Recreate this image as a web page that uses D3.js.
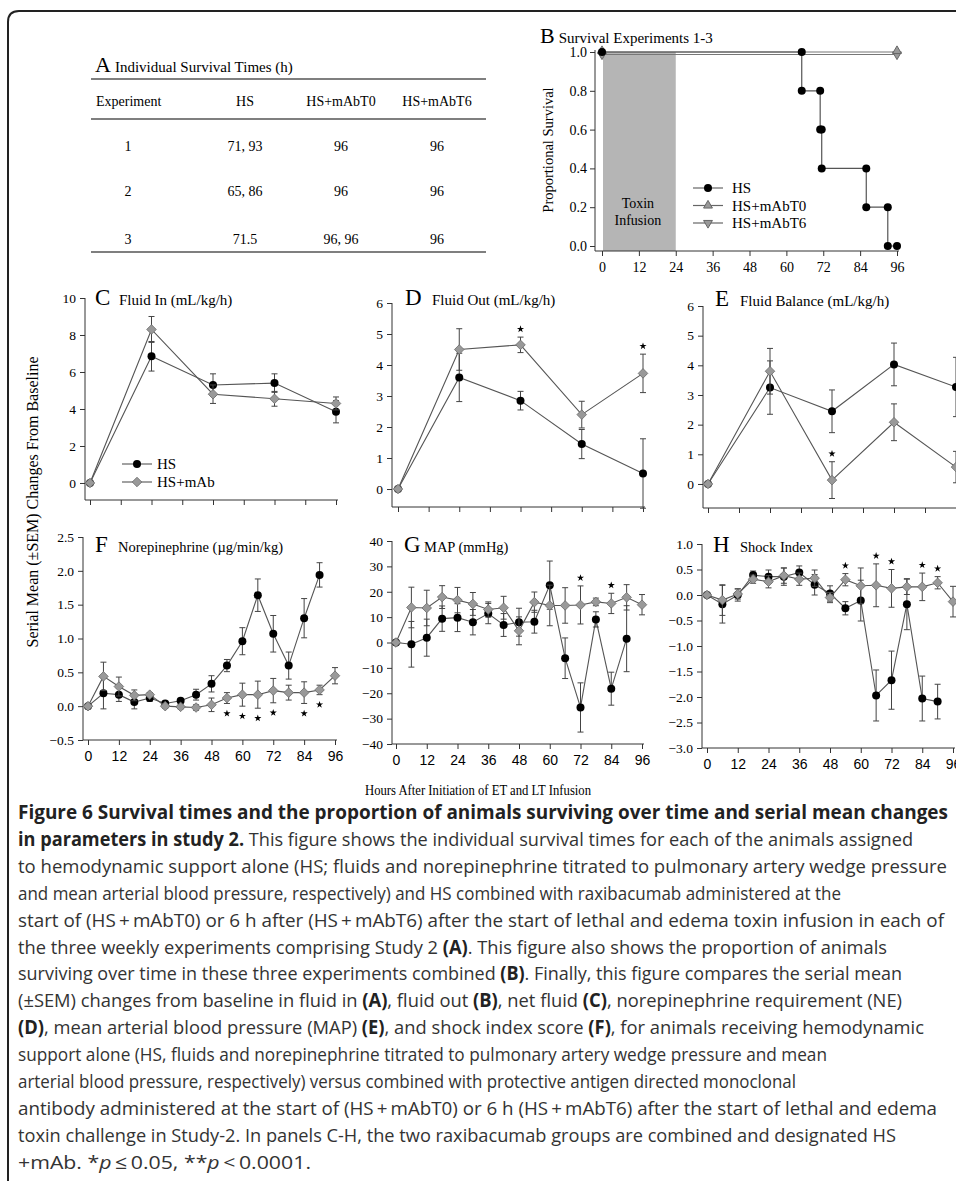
<!DOCTYPE html>
<meta charset="utf-8">
<style>
body { margin: 0; background: #fff; }
svg { display: block; }
</style>
<svg width="956" height="1181"></svg>
<script src="https://cdnjs.cloudflare.com/ajax/libs/d3/7.8.5/d3.min.js"></script>
<script>

// ---- data ----
var tableHeader = ["Experiment", "HS", "HS+mAbT0", "HS+mAbT6"];
var tableRows = [
  ["1", "71, 93", "96", "96"],
  ["2", "65, 86", "96", "96"],
  ["3", "71.5", "96, 96", "96"]
];

// survival (Kaplan-Meier steps)
var survHoursHS = [0, 65, 65, 71, 71, 71.5, 71.5, 86, 86, 93, 93, 96];
var survPropHS  = [1, 1, 0.8, 0.8, 0.6, 0.6, 0.4, 0.4, 0.2, 0.2, 0, 0];
var survHoursMab = [0, 96];
var survPropT0 = [1, 1];
var survPropT6 = [1, 1];
var survXTicks = [0, 12, 24, 36, 48, 60, 72, 84, 96];
var survYTicks = [0, 0.2, 0.4, 0.6, 0.8, 1.0];

var hoursDaily = [0, 24, 48, 72, 96];
var hours6 = [0, 6, 12, 18, 24, 30, 36, 42, 48, 54, 60, 66, 72, 78, 84, 90, 96];
var xTicks = [0, 12, 24, 36, 48, 60, 72, 84, 96];

// C fluid in
var fluidInHS     = [0, 6.85, 5.3, 5.4, 3.85];
var fluidInHSSem  = [0, 0.8, 0.6, 0.5, 0.6];
var fluidInMab    = [0, 8.3, 4.8, 4.55, 4.3];
var fluidInMabSem = [0, 0.7, 0.5, 0.4, 0.35];

// D fluid out
var fluidOutHS     = [0, 3.6, 2.85, 1.45, 0.5];
var fluidOutHSSem  = [0, 0.78, 0.3, 0.47, 1.12];
var fluidOutMab    = [0, 4.5, 4.65, 2.4, 3.73];
var fluidOutMabSem = [0, 0.67, 0.25, 0.43, 0.62];
var fluidOutStars  = [48, 96];

// E fluid balance
var balanceHS     = [0, 3.25, 2.45, 4.03, 3.27];
var balanceHSSem  = [0, 0.9, 0.72, 0.72, 1.0];
var balanceMab    = [0, 3.8, 0.13, 2.08, 0.57];
var balanceMabSem = [0, 0.77, 0.62, 0.62, 0.53];
var balanceStars  = [48];

// F norepinephrine
var neHS     = [0, 0.19, 0.17, 0.06, 0.12, 0.04, 0.08, 0.17, 0.33, 0.6, 0.96, 1.64, 1.07, 0.6, 1.3, 1.94, null];
var neHSSem  = [0, 0.23, 0.1, 0.1, 0.05, 0.03, 0.03, 0.08, 0.12, 0.09, 0.2, 0.24, 0.27, 0.2, 0.29, 0.18, null];
var neMab    = [0, 0.44, 0.29, 0.16, 0.17, 0.0, -0.01, -0.02, 0.02, 0.12, 0.17, 0.17, 0.23, 0.2, 0.2, 0.24, 0.45];
var neMabSem = [0, 0.21, 0.14, 0.08, 0.03, 0.03, 0.03, 0.04, 0.1, 0.08, 0.17, 0.2, 0.18, 0.11, 0.16, 0.07, 0.12];
var neStars  = [54, 60, 66, 72, 84, 90];

// G MAP
var mapHS     = [0, -0.7, 1.9, 9.4, 9.8, 8, 11.4, 6.9, 8, 8.2, 22.6, -6.2, -25.6, 9.1, -18.2, 1.5, null];
var mapHSSem  = [0, 9, 7.3, 5, 5.5, 5, 4, 4.5, 5.5, 4.5, 9.5, 8, 9.7, 3, 6.5, 13, null];
var mapMab    = [0, 13.8, 13.6, 17.9, 16.7, 15.2, 13, 13.7, 4.6, 15.9, 14.6, 14.6, 14.8, 16, 15.4, 17.8, 14.9];
var mapMabSem = [0, 8, 7, 4.5, 5, 4.5, 3, 4.5, 5.5, 4, 8, 7, 7.5, 1.5, 4, 5, 4];
var mapStars  = [72, 84];

// H shock index
var siHS     = [0, -0.18, 0.0, 0.39, 0.36, 0.36, 0.44, 0.2, 0.03, -0.26, -0.11, -1.97, -1.67, -0.18, -2.03, -2.09, null];
var siHSSem  = [0, 0.37, 0.12, 0.08, 0.13, 0.17, 0.13, 0.2, 0.15, 0.13, 0.4, 0.5, 0.57, 0.5, 0.44, 0.34, null];
var siMab    = [0, -0.1, 0.02, 0.31, 0.26, 0.38, 0.31, 0.33, -0.05, 0.3, 0.18, 0.19, 0.13, 0.16, 0.16, 0.24, -0.13];
var siMabSem = [0, 0.3, 0.1, 0.08, 0.12, 0.15, 0.12, 0.16, 0.1, 0.12, 0.35, 0.42, 0.37, 0.15, 0.27, 0.12, 0.3];
var siStars  = [54, 66, 72, 84, 90];

var captionLines = [
  [["Figure 6 Survival times and the proportion of animals surviving over time and serial mean changes", "b"]],
  [["in parameters in study 2.", "b"], [" This figure shows the individual survival times for each of the animals assigned", ""]],
  [["to hemodynamic support alone (HS; fluids and norepinephrine titrated to pulmonary artery wedge pressure", ""]],
  [["and mean arterial blood pressure, respectively) and HS combined with raxibacumab administered at the", ""]],
  [["start of (HS\u2009+\u2009mAbT0) or 6 h after (HS\u2009+\u2009mAbT6) after the start of lethal and edema toxin infusion in each of", ""]],
  [["the three weekly experiments comprising Study 2 ", ""], ["(A)", "b"], [". This figure also shows the proportion of animals", ""]],
  [["surviving over time in these three experiments combined ", ""], ["(B)", "b"], [". Finally, this figure compares the serial mean", ""]],
  [["(\u00b1SEM) changes from baseline in fluid in ", ""], ["(A)", "b"], [", fluid out ", ""], ["(B)", "b"], [", net fluid ", ""], ["(C)", "b"], [", norepinephrine requirement (NE)", ""]],
  [["(D)", "b"], [", mean arterial blood pressure (MAP) ", ""], ["(E)", "b"], [", and shock index score ", ""], ["(F)", "b"], [", for animals receiving hemodynamic", ""]],
  [["support alone (HS, fluids and norepinephrine titrated to pulmonary artery wedge pressure and mean", ""]],
  [["arterial blood pressure, respectively) versus combined with protective antigen directed monoclonal", ""]],
  [["antibody administered at the start of (HS\u2009+\u2009mAbT0) or 6 h (HS\u2009+\u2009mAbT6) after the start of lethal and edema", ""]],
  [["toxin challenge in Study-2. In panels C-H, the two raxibacumab groups are combined and designated HS", ""]],
  [["+mAb. *", ""], ["p", "i"], ["\u2009\u2264\u20090.05, **", ""], ["p", "i"], ["\u2009<\u20090.0001.", ""]]
];
var captionRight = [948, 913, 947, 841, 944, 887, 902, 902, 924, 827, 796, 937, 896, 311];

// ---- drawing ----
var serif = '"Liberation Serif", "Times New Roman", serif';
var sans = '"Liberation Sans", Arial, sans-serif';
var axisColor = "#333";
var lineColor = "#555";

var svg = d3.select("svg");

// frame
svg.append("path")
    .attr("d", "M8,1181 L8,22 Q8,11 19,11 L956,11")
    .attr("fill", "none").attr("stroke", "#222").attr("stroke-width", 2);

var diamond = {
  draw: function(ctx, size) {
    var r = Math.sqrt(size / 2);
    ctx.moveTo(0, -r); ctx.lineTo(r, 0); ctx.lineTo(0, r); ctx.lineTo(-r, 0); ctx.closePath();
  }
};
var star = d3.symbol().type(d3.symbolStar).size(16);

// ---- A: table ----
(function() {
  var g = svg.append("g").attr("font-family", serif).attr("fill", "#000");
  var t = g.append("text").attr("x", 95).attr("y", 72);
  t.append("tspan").attr("font-size", 22).text("A");
  t.append("tspan").attr("font-size", 15).attr("dx", 4).text("Individual Survival Times (h)");

  [79, 119, 252].forEach(function(yy) {
    g.append("line").attr("x1", 91).attr("x2", 486).attr("y1", yy).attr("y2", yy)
      .attr("stroke", "#555").attr("stroke-width", 1.4);
  });
  var colX = [96, 245, 341, 437];
  g.selectAll(".hdr").data(tableHeader).enter().append("text")
      .attr("x", function(d, i) { return colX[i]; })
      .attr("y", 106)
      .attr("text-anchor", function(d, i) { return i === 0 ? "start" : "middle"; })
      .attr("font-size", 14)
      .text(function(d) { return d; });
  var rowY = [151, 196, 244];
  var cellX = [128, 245, 341, 437];
  tableRows.forEach(function(row, r) {
    g.selectAll(null).data(row).enter().append("text")
        .attr("x", function(d, i) { return cellX[i]; })
        .attr("y", rowY[r])
        .attr("text-anchor", "middle")
        .attr("font-size", 14)
        .text(function(d) { return d; });
  });
})();

// ---- B: survival ----
(function() {
  var x = d3.scaleLinear().domain([0, 96]).range([602, 897]);
  var y = d3.scaleLinear().domain([0, 1]).range([246, 52]);
  var g = svg.append("g");
  var bottom = 251, axisX = 595;

  g.append("rect").attr("x", x(0) + 1).attr("y", y(1)).attr("width", x(24) - x(0) - 1)
    .attr("height", bottom - y(1)).attr("fill", "#b5b5b5");
  g.append("text").attr("font-family", serif).attr("font-size", 14).attr("text-anchor", "middle")
    .attr("x", x(12) - 1).attr("y", 208).text("Toxin");
  g.append("text").attr("font-family", serif).attr("font-size", 14).attr("text-anchor", "middle")
    .attr("x", x(12) - 1).attr("y", 225).text("Infusion");

  g.append("line").attr("x1", axisX).attr("x2", axisX).attr("y1", y(1) - 2).attr("y2", bottom).attr("stroke", axisColor);
  g.append("line").attr("x1", axisX).attr("x2", x(96) + 2).attr("y1", bottom).attr("y2", bottom).attr("stroke", axisColor);

  var ya = g.append("g").attr("transform", "translate(" + axisX + ",0)")
    .call(d3.axisLeft(y).tickValues(survYTicks).tickSize(5).tickPadding(3).tickFormat(d3.format(".1f")));
  ya.select(".domain").remove();
  var xa = g.append("g").attr("transform", "translate(0," + bottom + ")")
    .call(d3.axisBottom(x).tickValues(survXTicks).tickSize(5).tickPadding(6).tickFormat(d3.format("d")));
  xa.select(".domain").remove();
  [ya, xa].forEach(function(a) {
    a.attr("font-family", serif).attr("font-size", 14);
    a.selectAll("line").attr("stroke", axisColor);
    a.selectAll("text").attr("fill", "#000");
  });

  var line = d3.line().x(function(d) { return d[0]; }).y(function(d) { return d[1]; });
  var t0 = survHoursMab.map(function(h, i) { return [x(h), y(survPropT0[i])]; });
  var t6 = survHoursMab.map(function(h, i) { return [x(h), y(survPropT6[i]) + 2.5]; });
  g.append("path").attr("d", line(t6)).attr("fill", "none").attr("stroke", "#777").attr("stroke-width", 1.2);
  g.append("path").attr("d", line(t0)).attr("fill", "none").attr("stroke", "#777").attr("stroke-width", 1.2);
  var hs = survHoursHS.map(function(h, i) { return [x(h), y(survPropHS[i])]; });
  g.append("path").attr("d", line(hs)).attr("fill", "none").attr("stroke", lineColor).attr("stroke-width", 1.2);

  var up = d3.symbol().type(d3.symbolTriangle).size(34);
  g.selectAll(".t6").data(t6).enter().append("path").attr("d", up)
    .attr("transform", function(d) { return "translate(" + d[0] + "," + d[1] + ") rotate(180)"; })
    .attr("fill", "#999").attr("stroke", "#666");
  g.selectAll(".t0").data(t0).enter().append("path").attr("d", up)
    .attr("transform", function(d) { return "translate(" + d[0] + "," + (d[1] - 1) + ")"; })
    .attr("fill", "#999").attr("stroke", "#666");
  g.selectAll(".hs").data(hs).enter().append("circle")
    .attr("cx", function(d) { return d[0]; }).attr("cy", function(d) { return d[1]; })
    .attr("r", 4).attr("fill", "#000");

  // title
  var t = g.append("text").attr("font-family", serif).attr("x", 540).attr("y", 43);
  t.append("tspan").attr("font-size", 22).text("B");
  t.append("tspan").attr("font-size", 15).attr("dx", 4).text("Survival Experiments 1-3");
  g.append("text").attr("font-family", serif).attr("font-size", 14.5).attr("text-anchor", "middle")
    .attr("transform", "translate(553,150) rotate(-90)").text("Proportional Survival");

  // legend
  var leg = [["HS", "c"], ["HS+mAbT0", "u"], ["HS+mAbT6", "d"]];
  leg.forEach(function(l, i) {
    var ly = 188 + i * 17.5;
    g.append("line").attr("x1", 693).attr("x2", 723).attr("y1", ly).attr("y2", ly).attr("stroke", "#666").attr("stroke-width", 1.2);
    if (l[1] === "c") {
      g.append("circle").attr("cx", 708).attr("cy", ly).attr("r", 4).attr("fill", "#000");
    } else {
      g.append("path").attr("d", up).attr("fill", "#999").attr("stroke", "#666")
        .attr("transform", "translate(708," + ly + ")" + (l[1] === "d" ? " rotate(180)" : ""));
    }
    g.append("text").attr("font-family", serif).attr("font-size", 15).attr("x", 732).attr("y", ly + 5).text(l[0]);
  });
})();

// ---- C..H panels ----
function panel(p) {
  var x = d3.scaleLinear().domain([0, 96]).range([p.x0, p.x96]);
  var y = d3.scaleLinear().domain(p.yDomain).range([p.bottom, p.top]);
  var g = svg.append("g");

  g.append("line").attr("x1", p.axisX).attr("x2", p.axisX).attr("y1", p.top).attr("y2", p.bottom).attr("stroke", axisColor);
  g.append("line").attr("x1", p.axisX).attr("x2", x(96) + 2).attr("y1", p.bottom).attr("y2", p.bottom).attr("stroke", axisColor);

  var ya = g.append("g").attr("transform", "translate(" + p.axisX + ",0)")
    .call(d3.axisLeft(y).tickValues(p.yTicks).tickSize(5).tickPadding(4).tickFormat(d3.format(p.yFormat)));
  ya.select(".domain").remove();
  ya.attr("font-family", serif).attr("font-size", 13.5);
  var xa = g.append("g").attr("transform", "translate(0," + p.bottom + ")")
    .call(d3.axisBottom(x).tickValues(xTicks).tickSize(5).tickPadding(6)
      .tickFormat(p.xLabels ? d3.format("d") : function() { return ""; }));
  xa.select(".domain").remove();
  xa.attr("font-family", sans).attr("font-size", 14);
  [ya, xa].forEach(function(a) {
    a.selectAll("line").attr("stroke", axisColor);
    a.selectAll("text").attr("fill", "#000");
  });

  var line = d3.line().x(function(d) { return x(d.h); }).y(function(d) { return y(d.v); });
  function series(vals, sems) {
    return p.hours.map(function(h, i) { return { h: h, v: vals[i], e: sems[i] }; })
      .filter(function(d) { return d.v != null; });
  }
  var hs = series(p.hs, p.hsSem), mab = series(p.mab, p.mabSem);

  function drawSeries(data, kind) {
    var s = g.append("g");
    s.append("path").attr("d", line(data)).attr("fill", "none").attr("stroke", lineColor).attr("stroke-width", 1.1);
    var eb = s.selectAll(".eb").data(data.filter(function(d) { return d.e > 0; })).enter().append("g")
      .attr("stroke", "#444").attr("stroke-width", 1);
    eb.append("line").attr("x1", function(d) { return x(d.h); }).attr("x2", function(d) { return x(d.h); })
      .attr("y1", function(d) { return y(d.v - d.e); }).attr("y2", function(d) { return y(d.v + d.e); });
    eb.append("line").attr("x1", function(d) { return x(d.h) - 3; }).attr("x2", function(d) { return x(d.h) + 3; })
      .attr("y1", function(d) { return y(d.v + d.e); }).attr("y2", function(d) { return y(d.v + d.e); });
    eb.append("line").attr("x1", function(d) { return x(d.h) - 3; }).attr("x2", function(d) { return x(d.h) + 3; })
      .attr("y1", function(d) { return y(d.v - d.e); }).attr("y2", function(d) { return y(d.v - d.e); });
    if (kind === "c") {
      s.selectAll(".m").data(data).enter().append("circle")
        .attr("cx", function(d) { return x(d.h); }).attr("cy", function(d) { return y(d.v); })
        .attr("r", 4).attr("fill", "#000");
    } else {
      s.selectAll(".m").data(data).enter().append("path")
        .attr("d", d3.symbol().type(diamond).size(46))
        .attr("transform", function(d) { return "translate(" + x(d.h) + "," + y(d.v) + ")"; })
        .attr("fill", "#999").attr("stroke", "#6a6a6a").attr("stroke-width", 0.8);
    }
  }
  drawSeries(hs, "c");
  drawSeries(mab, "d");

  // significance stars
  (p.stars || []).forEach(function(h) {
    var d = mab.filter(function(m) { return m.h === h; })[0];
    var cy = p.starsBelow ? y(d.v - d.e) + 10 : y(d.v + d.e) - 8;
    g.append("path").attr("d", star).attr("fill", "#000")
      .attr("transform", "translate(" + x(h) + "," + cy + ")");
  });

  var t = g.append("text").attr("font-family", serif).attr("x", p.letterX).attr("y", p.titleY);
  t.append("tspan").attr("font-size", 23).text(p.letter);
  t.append("tspan").attr("font-size", p.titleSize || 15).attr("x", p.titleX).text(p.title);
}

panel({ letter: "C", title: "Fluid In (mL/kg/h)", letterX: 95, titleX: 119, titleY: 305,
  axisX: 85, x0: 90, x96: 336, top: 298, bottom: 500, yDomain: [-0.92, 10], yTicks: [0, 2, 4, 6, 8, 10], yFormat: "d",
  hours: hoursDaily, hs: fluidInHS, hsSem: fluidInHSSem, mab: fluidInMab, mabSem: fluidInMabSem });
panel({ letter: "D", title: "Fluid Out (mL/kg/h)", letterX: 405, titleX: 432, titleY: 305,
  axisX: 392, x0: 398, x96: 643, top: 303, bottom: 507, yDomain: [-0.58, 6], yTicks: [0, 1, 2, 3, 4, 5, 6], yFormat: "d",
  hours: hoursDaily, hs: fluidOutHS, hsSem: fluidOutHSSem, mab: fluidOutMab, mabSem: fluidOutMabSem, stars: fluidOutStars });
panel({ letter: "E", title: "Fluid Balance (mL/kg/h)", letterX: 715, titleX: 740, titleY: 306,
  axisX: 703, x0: 708, x96: 956, top: 306, bottom: 508, yDomain: [-0.81, 6], yTicks: [0, 1, 2, 3, 4, 5, 6], yFormat: "d",
  hours: hoursDaily, hs: balanceHS, hsSem: balanceHSSem, mab: balanceMab, mabSem: balanceMabSem, stars: balanceStars });
panel({ letter: "F", title: "Norepinephrine (\u00b5g/min/kg)", letterX: 95, titleX: 118, titleY: 552, titleSize: 14.5,
  axisX: 83, x0: 88, x96: 335, top: 537, bottom: 740, yDomain: [-0.5, 2.5], yTicks: [-0.5, 0, 0.5, 1, 1.5, 2, 2.5], yFormat: ".1f",
  xLabels: true, hours: hours6, hs: neHS, hsSem: neHSSem, mab: neMab, mabSem: neMabSem, stars: neStars, starsBelow: true });
panel({ letter: "G", title: "MAP (mmHg)", letterX: 404, titleX: 424, titleY: 552, titleSize: 14.5,
  axisX: 392, x0: 396, x96: 642, top: 541, bottom: 744, yDomain: [-40, 40], yTicks: [-40, -30, -20, -10, 0, 10, 20, 30, 40], yFormat: "d",
  xLabels: true, hours: hours6, hs: mapHS, hsSem: mapHSSem, mab: mapMab, mabSem: mapMabSem, stars: mapStars });
panel({ letter: "H", title: "Shock Index", letterX: 713, titleX: 740, titleY: 552, titleSize: 14.5,
  axisX: 702, x0: 707, x96: 953, top: 544, bottom: 748, yDomain: [-3, 1], yTicks: [-3, -2.5, -2, -1.5, -1, -0.5, 0, 0.5, 1], yFormat: ".1f",
  xLabels: true, hours: hours6, hs: siHS, hsSem: siHSSem, mab: siMab, mabSem: siMabSem, stars: siStars });

// legend in C
(function() {
  var g = svg.append("g");
  [["HS", "c"], ["HS+mAb", "d"]].forEach(function(l, i) {
    var ly = 464 + i * 18;
    g.append("line").attr("x1", 122).attr("x2", 152).attr("y1", ly).attr("y2", ly).attr("stroke", lineColor).attr("stroke-width", 1.1);
    if (l[1] === "c") g.append("circle").attr("cx", 137).attr("cy", ly).attr("r", 4).attr("fill", "#000");
    else g.append("path").attr("d", d3.symbol().type(diamond).size(46)).attr("transform", "translate(137," + ly + ")")
      .attr("fill", "#999").attr("stroke", "#6a6a6a").attr("stroke-width", 0.8);
    g.append("text").attr("font-family", serif).attr("font-size", 15).attr("x", 157).attr("y", ly + 5).text(l[0]);
  });
})();

// shared axis titles
svg.append("text").attr("font-family", serif).attr("font-size", 16).attr("text-anchor", "middle")
  .attr("transform", "translate(38,502) rotate(-90)").text("Serial Mean (\u00b1SEM) Changes From Baseline");
svg.append("text").attr("font-family", serif).attr("font-size", 15.5).attr("text-anchor", "middle")
  .attr("x", 478).attr("y", 795).attr("textLength", 226).attr("lengthAdjust", "spacingAndGlyphs")
  .text("Hours After Initiation of ET and LT Infusion");

// caption
captionLines.forEach(function(segs, i) {
  var t = svg.append("text")
    .attr("font-family", '"Open Sans", sans-serif').attr("font-size", 19)
    .attr("x", 18).attr("y", 819 + i * 26.9)
    .attr("fill", "#333")
    .attr("textLength", captionRight[i] - 18).attr("lengthAdjust", "spacingAndGlyphs");
  segs.forEach(function(s) {
    var ts = t.append("tspan").text(s[0]);
    if (s[1] === "b") ts.attr("font-weight", "bold").attr("fill", "#222");
    if (s[1] === "i") ts.attr("font-style", "italic");
  });
});

</script>
